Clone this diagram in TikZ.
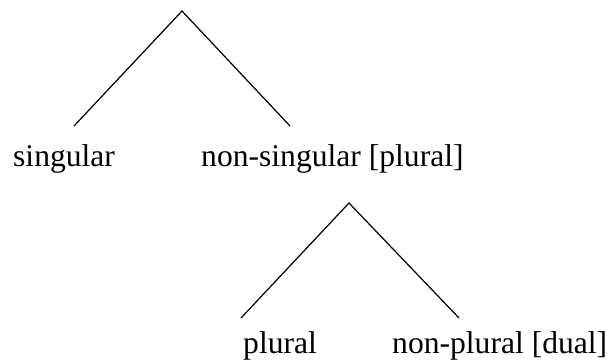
\documentclass[tikz,border=0pt]{standalone}
\usepackage{fontspec}
\setmainfont{Liberation Serif}
\begin{document}
\begin{tikzpicture}[x=1pt,y=-1pt,
  lbl/.style={anchor=base west,inner sep=0pt,font=\fontsize{31.6}{36}\selectfont},
  branch/.style={line width=1.2pt,black}]
\useasboundingbox (0,0) rectangle (609,360);
\coordinate (top) at (182,11);
\coordinate (l1) at (74,126);
\coordinate (r1) at (290,126);
\coordinate (mid) at (349,203);
\coordinate (l2) at (241,318);
\coordinate (r2) at (459,318);
\node[lbl] (sg) at (13,166) {singular};
\node[lbl] (nsg) at (201,166) {non-singular [plural]};
\node[lbl] (pl) at (243,353) {plural};
\node[lbl] (npl) at (392,353) {non-plural [dual]};
\draw[branch] (l1) -- (top) -- (r1);
\draw[branch] (l2) -- (mid) -- (r2);
\end{tikzpicture}
\end{document}
